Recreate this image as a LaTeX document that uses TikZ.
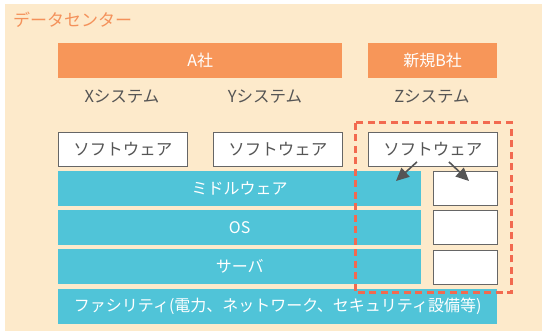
\documentclass[tikz,border=0pt]{standalone}
\usepackage{fontspec}
\setmainfont{Noto Sans CJK JP}
\usetikzlibrary{arrows.meta}
\definecolor{bgc}{HTML}{FDEACB}
\definecolor{orgc}{HTML}{F79659}
\definecolor{ttlc}{HTML}{F4915A}
\definecolor{bluec}{HTML}{50C4D8}
\definecolor{grayc}{HTML}{555555}
\definecolor{redc}{HTML}{F26A50}
\tikzset{
  x=1pt, y=-1pt,
  company/.style={fill=orgc, draw=none, text=white, font=\fontsize{16}{16}\selectfont},
  layer/.style={fill=bluec, draw=none, text=white, font=\fontsize{16}{16}\selectfont},
  softbox/.style={fill=white, draw=gray!80!black, line width=0.9pt, text=grayc, font=\fontsize{16.5}{16.5}\selectfont},
  emptybox/.style={fill=white, draw=gray!80!black, line width=0.9pt},
  syslabel/.style={text=grayc, font=\fontsize{16.5}{16.5}\selectfont},
  pointer/.style={draw=grayc, line width=1.6pt, -{Triangle[length=13pt,width=12pt]}},
}
\begin{document}
\begin{tikzpicture}
\useasboundingbox (0,0) rectangle (542,331);
\fill[white] (0,0) rectangle (542,331);
\fill[bgc] (5,4) rectangle (542,331);
\node[text=ttlc, font=\fontsize{17}{17}\selectfont, anchor=west, inner sep=0pt] (title) at (13,20) {データセンター};
% companies
\node[company, minimum width=284pt, minimum height=35pt, inner sep=0pt, anchor=north west] (coA) at (58,43) {A社};
\node[company, minimum width=129pt, minimum height=35pt, inner sep=0pt, anchor=north west] (coB) at (368,43) {新規B社};
% system labels
\node[syslabel] (sysX) at (122,97) {Xシステム};
\node[syslabel] (sysY) at (265,97) {Yシステム};
\node[syslabel] (sysZ) at (432,97) {Zシステム};
% software boxes
\node[softbox, minimum width=129pt, minimum height=34pt, inner sep=0pt, anchor=north west] (swX) at (58,132) {ソフトウェア};
\node[softbox, minimum width=129pt, minimum height=34pt, inner sep=0pt, anchor=north west] (swY) at (213,132) {ソフトウェア};
\node[softbox, minimum width=129pt, minimum height=34pt, inner sep=0pt, anchor=north west] (swZ) at (368,132) {ソフトウェア};
% layers
\node[layer, minimum width=363pt, minimum height=35pt, inner sep=0pt, anchor=north west] (mw) at (58,171) {ミドルウェア};
\node[layer, minimum width=363pt, minimum height=35pt, inner sep=0pt, anchor=north west] (os) at (58,210) {OS};
\node[layer, minimum width=363pt, minimum height=35pt, inner sep=0pt, anchor=north west] (srv) at (58,249) {サーバ};
\node[layer, minimum width=439pt, minimum height=35pt, inner sep=0pt, anchor=north west] (fac) at (58,289) {ファシリティ(電力、ネットワーク、セキュリティ設備等)};
% empty boxes
\node[emptybox, minimum width=64pt, minimum height=34pt, inner sep=0pt, anchor=north west] (e1) at (433,171) {};
\node[emptybox, minimum width=64pt, minimum height=34pt, inner sep=0pt, anchor=north west] (e2) at (433,210) {};
\node[emptybox, minimum width=64pt, minimum height=34pt, inner sep=0pt, anchor=north west] (e3) at (433,250) {};
% dashed region
\draw[redc, line width=3pt, dash pattern=on 7pt off 4.5pt] (355,123) rectangle (511,293);
% arrows
\coordinate (a1s) at ([xshift=-16pt,yshift=5pt]swZ.south);
\coordinate (a1e) at ([xshift=-37pt,yshift=-10pt]e1.north west);
\coordinate (a2s) at ([xshift=16pt,yshift=5pt]swZ.south);
\coordinate (a2e) at ([xshift=36pt,yshift=-10pt]e1.north west);
\draw[pointer] (a1s) -- (a1e);
\draw[pointer] (a2s) -- (a2e);
\end{tikzpicture}
\end{document}
